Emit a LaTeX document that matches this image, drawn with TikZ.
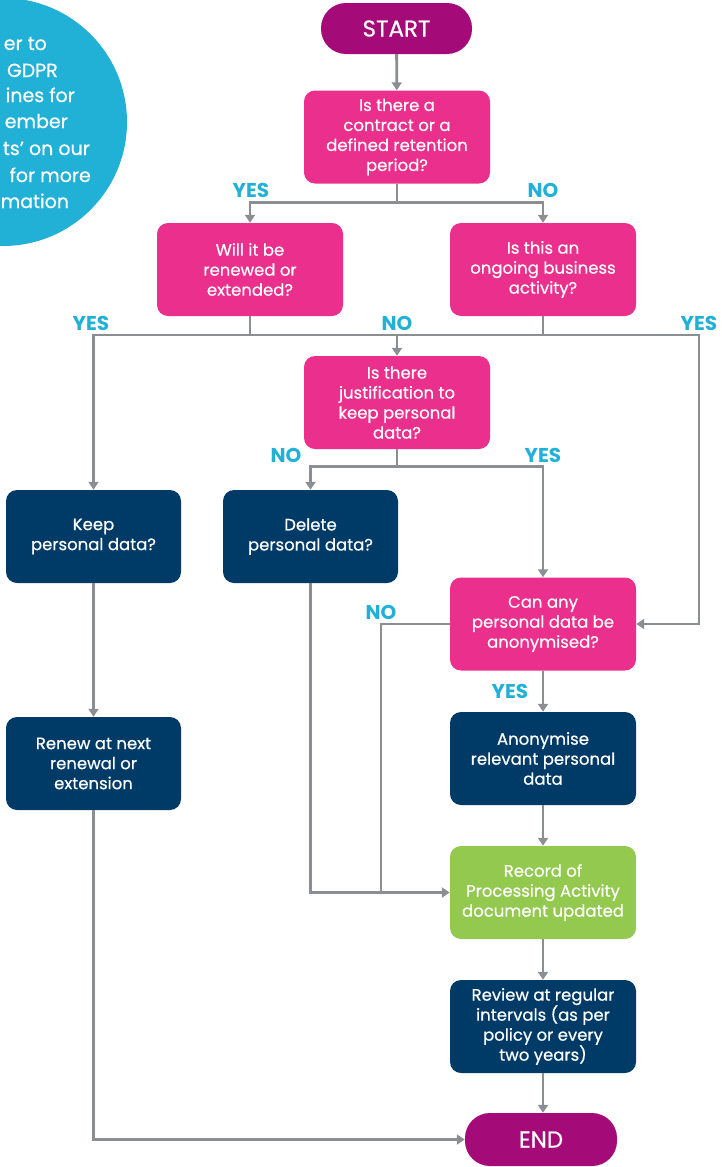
\documentclass[tikz,border=0pt]{standalone}
\usepackage{fontspec}
\setmainfont{Poppins}
\newfontfamily\medfont{Poppins}[FakeBold=0.5]
\usetikzlibrary{arrows.meta}
\definecolor{qpink}{HTML}{EA2F8C}
\definecolor{dblue}{HTML}{003B68}
\definecolor{lgreen}{HTML}{93C94F}
\definecolor{mpurple}{HTML}{A50B78}
\definecolor{lcyan}{HTML}{22B1D6}
\definecolor{lgray}{HTML}{8B8E93}
\tikzset{
  box/.style={rounded corners=11pt, minimum height=93pt, inner sep=0pt, align=center,
    text=white, font=\medfont\fontsize{16.5}{20}\selectfont},
  qbox/.style={box, fill=qpink, minimum width=186pt},
  abox/.style={box, fill=dblue, minimum width=186pt},
  lbox/.style={box, fill=dblue, minimum width=175pt},
  gbox/.style={box, fill=lgreen, minimum width=186pt},
  term/.style={fill=mpurple, text=white, inner sep=0pt, rounded corners=25pt,
    font=\medfont\fontsize{23}{23}\selectfont},
  lbl/.style={text=lcyan, font=\bfseries\fontsize{20}{20}\selectfont, inner sep=0pt},
  line/.style={draw=lgray, line width=2.8pt},
  conn/.style={line, -{Triangle[width=10pt,length=8pt]}},
  ctext/.style={text=white, anchor=base east, inner sep=0pt, font=\medfont\fontsize{19}{19}\selectfont}
}
\begin{document}
\begin{tikzpicture}[x=1pt,y=-1pt]
\useasboundingbox (0,0) rectangle (721,1167);
% info circle
\begin{scope}
\clip (0,0) rectangle (721,1167);
\fill[lcyan] (3,122) circle (124);
\end{scope}
\node[ctext] (c1) at (47,50) {er to};
\node[ctext] (c2) at (58,77) {GDPR};
\node[ctext] (c3) at (75,102) {ines for};
\node[ctext] (c4) at (68,128) {ember};
\node[ctext] (c5) at (90,155) {ts’ on our};
\node[ctext] (c6) at (91,182) {for more};
\node[ctext, anchor=base west] (c7) at (0.5,208) {mation};

% nodes
\node[term, minimum width=151pt, minimum height=51pt] (start) at (396.5,28.5) {START};
\node[qbox] (q1) at (397,137) {Is there a\\contract or a\\defined retention\\period?};
\node[qbox] (q2) at (250,269.5) {Will it be\\renewed or\\extended?};
\node[qbox] (q3) at (543,269.5) {Is this an\\ongoing business\\activity?};
\node[qbox] (q4) at (397,402.5) {Is there\\justification to\\keep personal\\data?};
\node[lbox] (keep) at (93.5,536.5) {Keep\\personal data?};
\node[lbox] (delete) at (310.5,536.5) {Delete\\personal data?};
\node[qbox] (can) at (543,624) {Can any\\personal data be\\anonymised?};
\node[lbox] (renew) at (93.5,763.5) {Renew at next\\renewal or\\extension};
\node[abox] (anon) at (543,758.5) {Anonymise\\relevant personal\\data};
\node[gbox] (record) at (543,892.5) {Record of\\Processing Activity\\document updated};
\node[abox] (review) at (543,1026.5) {Review at regular\\intervals (as per\\policy or every\\two years)};
\node[term, minimum width=152pt, minimum height=53pt] (end) at (541,1139.5) {END};

% labels
\node[lbl] (l1) at (251,190) {YES};
\node[lbl] (l2) at (543,190) {NO};
\node[lbl] (l3) at (91,323) {YES};
\node[lbl] (l4) at (397,323) {NO};
\node[lbl] (l5) at (699,323) {YES};
\node[lbl] (l6) at (286,455) {NO};
\node[lbl] (l7) at (543,455) {YES};
\node[lbl] (l8) at (381,612) {NO};
\node[lbl] (l9) at (510,691) {YES};

% helper coordinates
\coordinate (bus) at (0,335);
\coordinate (rbus) at (699,335);
\coordinate (nox) at (381,0);

% connectors
\draw[conn] (start) -- (q1);
\draw[conn] (q1.south) -- ++(0,19) -| (q2.north);
\draw[conn] (q1.south) -- ++(0,19) -| (q3.north);
\draw[line] (q2.south) -- (q2.south |- bus) -- (q3.south |- bus) -- (q3.south);
\draw[conn] (q2.south |- bus) -| (keep.north);
\draw[conn] (q3.south |- bus) -- (rbus) |- (can.east);
\draw[conn] (q4.north |- bus) -- (q4.north);
\draw[conn] (q4.south) -- ++(0,17) -| (delete.north);
\draw[conn] (q4.south) -- ++(0,17) -| (can.north);
\draw[conn] (delete.south) |- (record.west);
\draw[line] (can.west) -| (nox |- record.west);
\draw[conn] (can) -- (anon);
\draw[conn] (anon) -- (record);
\draw[conn] (record) -- (review);
\draw[conn] (review.south) -- (review.south |- end.north);
\draw[conn] (keep) -- (renew);
\draw[conn] (renew.south) |- (end.west);
\end{tikzpicture}
\end{document}
